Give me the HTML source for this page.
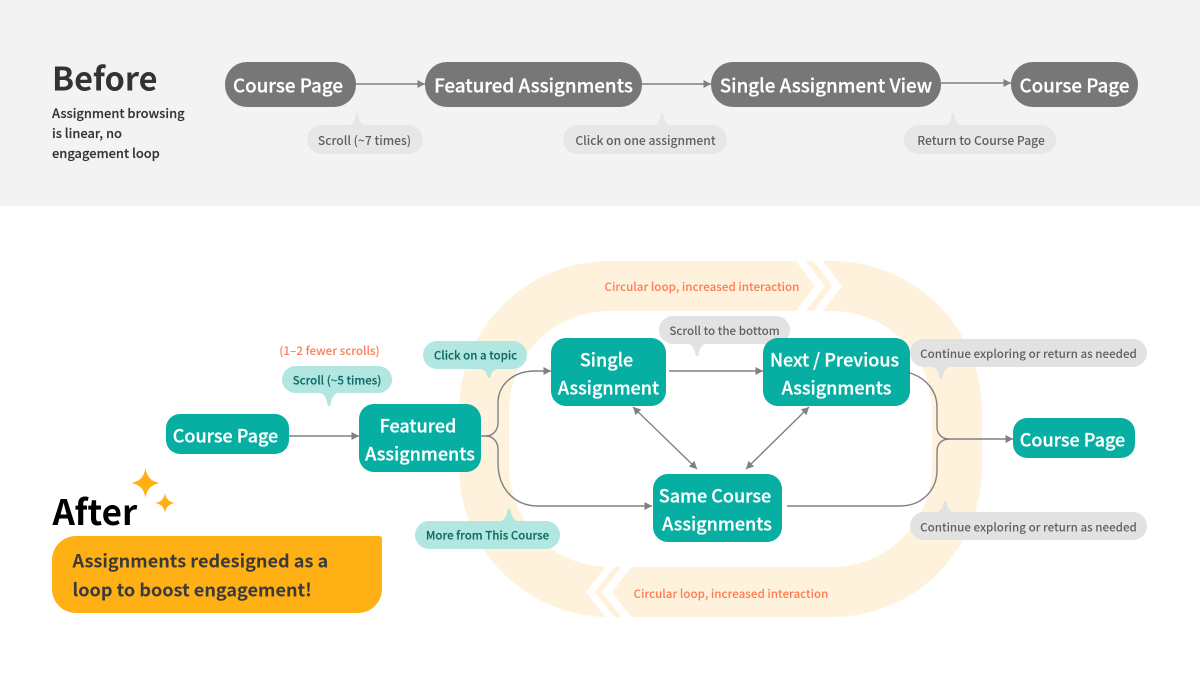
<!DOCTYPE html>
<html><head><meta charset="utf-8"><style>
html,body{margin:0;padding:0;background:#fff;width:1200px;height:676px;overflow:hidden}
svg{display:block}
text{font-family:"Noto Sans CJK SC","Liberation Sans",sans-serif}
.n{font-size:18.8px;font-weight:500;fill:#fff;stroke:#fff;stroke-width:.25;text-anchor:middle}
.m{font-size:18px;font-weight:500;fill:#fff;stroke:#fff;stroke-width:.25;text-anchor:middle}
.g{font-size:12.1px;font-weight:500;fill:#5f5f5f;text-anchor:middle}
.h{font-size:11.6px;font-weight:500;fill:#5f5f5f;text-anchor:middle}
.t{font-size:11.5px;font-weight:500;fill:#0c6b64;stroke:#0c6b64;stroke-width:.15;text-anchor:middle}
.o{font-size:11.65px;font-weight:500;fill:#ff7a52;text-anchor:middle}
.c{fill:none;stroke:#808080;stroke-width:1.4}
</style></head><body>
<svg width="1200" height="676" viewBox="0 0 1200 676" xmlns="http://www.w3.org/2000/svg">
<defs>
<marker id="a" markerUnits="userSpaceOnUse" markerWidth="10" markerHeight="10" refX="8" refY="5" orient="auto-start-reverse"><path d="M0.5 1L8 5L0.5 9Z" fill="#808080"/></marker>
</defs>
<rect width="1200" height="206" fill="#f3f3f3"/>
<text x="52" y="90.500" font-size="32.500" font-weight="700" fill="#333">Before</text>
<text x="52" y="118" font-size="12.900" font-weight="500" fill="#333" stroke="#333" stroke-width=".15">Assignment browsing</text>
<text x="52" y="138" font-size="12.900" font-weight="500" fill="#333" stroke="#333" stroke-width=".15">is linear, no</text>
<text x="52" y="158" font-size="12.900" font-weight="500" fill="#333" stroke="#333" stroke-width=".15">engagement loop</text>

<g fill="#e6e7e7">
<rect x="307" y="125" width="116" height="29" rx="14.5"/><path d="M345 126q10 0 10.500-12q1.500-2 3 0q.5 12 10.500 12z"/>
<rect x="563" y="125" width="164" height="29" rx="14.500"/><path d="M650 126q10 0 10.500-12q1.500-2 3 0q.5 12 10.500 12z"/>
<rect x="904" y="125" width="152" height="29" rx="14.500"/><path d="M941 126q10 0 10.500-12q1.500-2 3 0q.5 12 10.500 12z"/>
</g>
<text class="g" x="364.500" y="145">Scroll (~7 times)</text>
<text class="g" x="645.500" y="145">Click on one assignment</text>
<text class="g" x="981" y="145">Return to Course Page</text>

<g fill="#777">
<rect x="225" y="62" width="131" height="45" rx="22"/>
<rect x="425" y="62" width="217" height="45" rx="22"/>
<rect x="711" y="62" width="230" height="45" rx="22"/>
<rect x="1011" y="62" width="127" height="45" rx="22"/>
</g>
<text class="n" x="288" y="92.500">Course Page</text>
<text class="n" x="533.500" y="92.500">Featured Assignments</text>
<text class="n" x="826" y="92.500">Single Assignment View</text>
<text class="n" x="1074.500" y="92.500">Course Page</text>
<path class="c" d="M356 84H425" marker-end="url(#a)"/>
<path class="c" d="M642 84H711" marker-end="url(#a)"/>
<path class="c" d="M941 83H1011" marker-end="url(#a)"/>

<!-- loop band -->
<rect x="484" y="286" width="473" height="306" rx="125" fill="none" stroke="#fff2dc" stroke-width="50"/>
<g fill="#fff">
<path d="M795 260H805L825 286L805 312H795L815 286Z"/>
<path d="M813 260H822L842 286L822 312H813L832 286Z"/>
<path d="M606 566H615L595 592L615 618H606L586 592Z"/>
<path d="M622 566H632L612 592L632 618H622L602 592Z"/>
</g>
<text class="o" x="702" y="291">Circular loop, increased interaction</text>
<text class="o" x="731" y="598">Circular loop, increased interaction</text>

<text class="o" x="329.500" y="355">(1–2 fewer scrolls)</text>

<!-- bubbles after -->
<g fill="#b2e6e1">
<rect x="282" y="366" width="110" height="27" rx="13.500"/><path d="M316 392q10 0 11.500 13q1.500 2 3 0q1.500-13 11.500-13z"/>
<rect x="423" y="341" width="104" height="28" rx="14"/><path d="M476 368q10 0 11.500 9q1.500 2 3 0q1.500-9 11.500-9z"/>
<rect x="415" y="521" width="145" height="28" rx="14"/><path d="M496 522q10 0 11.500-12q1.500-2 3 0q1.500 12 11.500 12z"/>
</g>
<g fill="#e2e2e2">
<rect x="659" y="316" width="131" height="28" rx="14"/><path d="M684 343q10 0 11.500 12q1.500 2 3 0q1.500-12 11.500-12z"/>
<rect x="910" y="339" width="237" height="28" rx="14"/><path d="M928 366q10 0 11.500 12q1.500 2 3 0q1.500-12 11.500-12z"/>
<rect x="910" y="512" width="237" height="28" rx="14"/><path d="M932 513q10 0 11.500-11q1.500-2 3 0q1.500 11 11.500 11z"/>
</g>
<text class="t" x="337" y="384.500">Scroll (~5 times)</text>
<text class="t" x="475.500" y="359.500">Click on a topic</text>
<text class="t" x="487.500" y="539.500">More from This Course</text>
<text class="h" x="724.500" y="335">Scroll to the bottom</text>
<text class="h" x="1028.500" y="358">Continue exploring or return as needed</text>
<text class="h" x="1028.500" y="531.500">Continue exploring or return as needed</text>

<!-- connectors -->
<path class="c" d="M289 436H359" marker-end="url(#a)"/>
<path class="c" d="M481 436H486C493 436 498 430 498 423V403C498 384 514 371 535 371H551" marker-end="url(#a)"/>
<path class="c" d="M486 436C493 436 498 442 498 449V463C498 488 514 506 538 506H652" marker-end="url(#a)"/>
<path class="c" d="M669 371H763" marker-end="url(#a)"/>
<path class="c" d="M633 407L697 469" marker-start="url(#a)" marker-end="url(#a)"/>
<path class="c" d="M809 407L746 469" marker-start="url(#a)" marker-end="url(#a)"/>
<path class="c" d="M910 373C926 378 937 391 937 407V427C937 434 942 439 949 439H1013" marker-end="url(#a)"/>
<path class="c" d="M949 439C942 439 937 444 937 451V470C937 491 921 506 900 506H787"/>

<!-- nodes after -->
<g fill="#07afa3">
<rect x="166" y="414" width="123" height="40" rx="14"/>
<rect x="359" y="404" width="122" height="68" rx="15"/>
<rect x="551" y="338" width="115" height="68" rx="15"/>
<rect x="763" y="338" width="147" height="68" rx="15"/>
<rect x="653" y="474" width="129" height="68" rx="15"/>
<rect x="1013" y="418" width="122" height="40" rx="14"/>
</g>
<text class="m" x="225.500" y="442.500">Course Page</text>
<text class="m" x="418" y="432.500">Featured</text>
<text class="m" x="420" y="460.500">Assignments</text>
<text class="m" x="606.500" y="366.500">Single</text>
<text class="m" x="608.500" y="394.500">Assignment</text>
<text class="m" x="834.500" y="366.500">Next / Previous</text>
<text class="m" x="836.500" y="394.500">Assignments</text>
<text class="m" x="715" y="502.500">Same Course</text>
<text class="m" x="717" y="530.500">Assignments</text>
<text class="m" x="1072.500" y="446.500">Course Page</text>

<!-- after label -->
<text x="52.500" y="525" font-size="35" font-weight="700" fill="#000">After</text>
<path d="M76 536H379Q382 536 382 539V589A24 24 0 0 1 358 613H76A24 24 0 0 1 52 589V560A24 24 0 0 1 76 536Z" fill="#ffb014"/>
<text x="72.500" y="567.500" font-size="18.100" font-weight="700" fill="#3a3a3a">Assignments redesigned as a</text>
<text x="72.500" y="596.500" font-size="18.100" font-weight="700" fill="#3a3a3a">loop to boost engagement!</text>
<path d="M145.500 468C147 477 151 481 159.500 483C151 485 147 489 145.500 498C144 489 140 485 131.500 483C140 481 144 477 145.500 468Z" fill="#ffb014"/>
<path d="M165 493C166 499 169 502 175 503C169 504 166 507 165 513C164 507 161 504 155 503C161 502 164 499 165 493Z" fill="#ffb014"/>
</svg>
</body></html>
